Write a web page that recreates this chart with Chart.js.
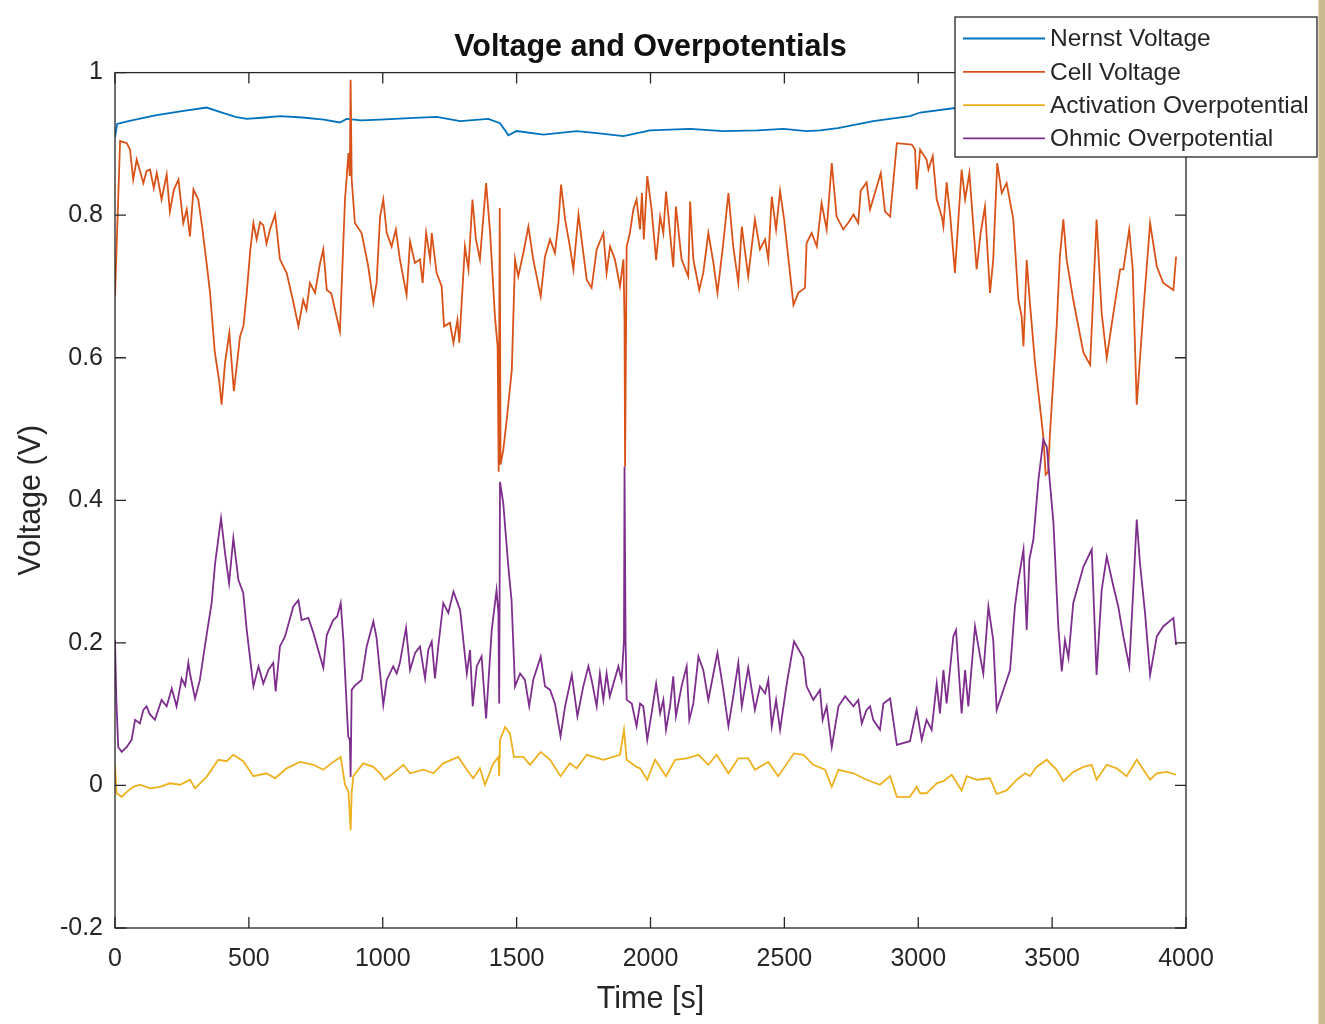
<!DOCTYPE html>
<html>
<head>
<meta charset="utf-8">
<title>Voltage and Overpotentials</title>
<script src="https://cdn.jsdelivr.net/npm/chart.js@4.4.1/dist/chart.umd.min.js"></script>
<style>
  html, body { margin: 0; padding: 0; background: #fff; }
  #wrap { position: relative; width: 1325px; height: 1024px; overflow: hidden; }
  #edge { position: absolute; right: 0; top: 0; width: 6px; height: 1024px; background: #c9bb8f; border-left: 1px solid #e2d8b8; }
</style>
</head>
<body>
<div id="wrap">
  <canvas id="myChart" width="1325" height="1024"></canvas>
  <div id="edge"></div>
</div>
<script>
// values (time in s, voltage in V)
const nernstTime = [0, 8, 50, 150, 250, 342, 400, 450, 492, 560, 616, 700, 780, 840, 865, 920, 990, 1100, 1201, 1289, 1394, 1438, 1455, 1469, 1500, 1600, 1724, 1800, 1899, 1998, 2148, 2272, 2400, 2496, 2583, 2633, 2700, 2832, 2969, 3007, 3131, 3300, 3500, 3700, 3963];
const nernstVolt = [0.909, 0.928, 0.932, 0.940, 0.946, 0.951, 0.944, 0.938, 0.935, 0.937, 0.939, 0.937, 0.934, 0.930, 0.935, 0.933, 0.934, 0.936, 0.938, 0.932, 0.935, 0.929, 0.920, 0.912, 0.918, 0.913, 0.918, 0.915, 0.911, 0.919, 0.921, 0.918, 0.919, 0.921, 0.918, 0.919, 0.922, 0.932, 0.939, 0.944, 0.950, 0.954, 0.957, 0.960, 0.963];

const cellTime = [0, 19, 44, 56, 68, 81, 95, 106, 118, 131, 145, 156, 174, 193, 205, 220, 237, 255, 268, 280, 293, 311, 325, 342, 355, 373, 390, 398, 411, 427, 444, 467, 480, 492, 505, 517, 529, 542, 554, 566, 579, 598, 616, 641, 665, 685, 703, 715, 728, 747, 766, 778, 791, 808, 822, 840, 859, 872, 877, 880, 884, 896, 921, 945, 965, 977, 990, 1002, 1015, 1033, 1049, 1064, 1089, 1102, 1120, 1139, 1149, 1162, 1177, 1183, 1201, 1220, 1229, 1251, 1264, 1279, 1286, 1307, 1320, 1335, 1348, 1363, 1386, 1401, 1419, 1429, 1433, 1437, 1440, 1450, 1463, 1482, 1494, 1506, 1525, 1544, 1562, 1590, 1606, 1625, 1643, 1656, 1666, 1681, 1699, 1712, 1731, 1749, 1762, 1780, 1799, 1824, 1836, 1849, 1867, 1886, 1899, 1903, 1905, 1911, 1923, 1936, 1948, 1961, 1968, 1975, 1988, 2004, 2021, 2036, 2048, 2058, 2073, 2085, 2095, 2116, 2141, 2148, 2160, 2182, 2197, 2216, 2235, 2250, 2272, 2291, 2309, 2328, 2341, 2365, 2390, 2409, 2428, 2440, 2453, 2469, 2484, 2499, 2534, 2552, 2577, 2583, 2602, 2621, 2639, 2658, 2677, 2695, 2720, 2740, 2758, 2776, 2785, 2807, 2820, 2845, 2860, 2876, 2895, 2920, 2976, 2988, 2994, 3007, 3031, 3038, 3054, 3069, 3088, 3094, 3106, 3119, 3137, 3162, 3175, 3191, 3206, 3218, 3233, 3249, 3268, 3280, 3295, 3312, 3330, 3355, 3374, 3386, 3393, 3405, 3417, 3436, 3467, 3476, 3485, 3492, 3517, 3529, 3542, 3554, 3579, 3617, 3642, 3666, 3685, 3704, 3729, 3754, 3766, 3788, 3801, 3816, 3841, 3866, 3891, 3915, 3953, 3963];
const cellVolt = [0.686, 0.904, 0.901, 0.892, 0.850, 0.878, 0.860, 0.845, 0.862, 0.864, 0.838, 0.859, 0.822, 0.857, 0.805, 0.836, 0.850, 0.789, 0.808, 0.770, 0.836, 0.822, 0.785, 0.733, 0.691, 0.607, 0.565, 0.534, 0.593, 0.635, 0.553, 0.630, 0.645, 0.691, 0.750, 0.789, 0.766, 0.790, 0.786, 0.760, 0.780, 0.801, 0.738, 0.719, 0.680, 0.644, 0.681, 0.667, 0.705, 0.691, 0.733, 0.752, 0.695, 0.690, 0.667, 0.637, 0.822, 0.887, 0.855, 0.990, 0.850, 0.789, 0.775, 0.730, 0.677, 0.705, 0.798, 0.822, 0.775, 0.756, 0.780, 0.738, 0.688, 0.763, 0.733, 0.738, 0.705, 0.775, 0.738, 0.775, 0.719, 0.700, 0.644, 0.649, 0.621, 0.653, 0.621, 0.756, 0.724, 0.822, 0.766, 0.738, 0.845, 0.775, 0.658, 0.616, 0.440, 0.810, 0.450, 0.470, 0.513, 0.583, 0.738, 0.714, 0.747, 0.784, 0.738, 0.686, 0.742, 0.766, 0.747, 0.789, 0.843, 0.794, 0.756, 0.724, 0.801, 0.747, 0.709, 0.698, 0.752, 0.775, 0.719, 0.756, 0.738, 0.700, 0.738, 0.653, 0.447, 0.756, 0.775, 0.808, 0.822, 0.780, 0.831, 0.766, 0.855, 0.808, 0.737, 0.798, 0.775, 0.833, 0.775, 0.727, 0.812, 0.738, 0.714, 0.819, 0.738, 0.695, 0.719, 0.775, 0.733, 0.691, 0.761, 0.831, 0.756, 0.705, 0.784, 0.714, 0.794, 0.752, 0.766, 0.738, 0.826, 0.780, 0.834, 0.794, 0.674, 0.691, 0.698, 0.761, 0.775, 0.756, 0.817, 0.780, 0.873, 0.798, 0.780, 0.790, 0.801, 0.789, 0.834, 0.846, 0.808, 0.840, 0.859, 0.805, 0.798, 0.901, 0.899, 0.892, 0.836, 0.892, 0.878, 0.864, 0.883, 0.822, 0.798, 0.784, 0.846, 0.801, 0.719, 0.864, 0.822, 0.859, 0.784, 0.724, 0.775, 0.812, 0.691, 0.738, 0.873, 0.831, 0.845, 0.794, 0.681, 0.658, 0.616, 0.737, 0.677, 0.593, 0.490, 0.436, 0.440, 0.494, 0.644, 0.742, 0.794, 0.738, 0.681, 0.607, 0.590, 0.794, 0.663, 0.600, 0.663, 0.724, 0.724, 0.780, 0.724, 0.534, 0.667, 0.789, 0.728, 0.705, 0.695, 0.742];

const actTime = [0, 6, 25, 50, 68, 93, 131, 168, 205, 243, 280, 299, 342, 386, 417, 442, 479, 517, 566, 598, 641, 691, 741, 778, 815, 843, 859, 872, 880, 884, 890, 927, 965, 990, 1008, 1039, 1077, 1102, 1152, 1189, 1226, 1282, 1314, 1338, 1363, 1382, 1413, 1432, 1435, 1438, 1457, 1475, 1490, 1525, 1550, 1590, 1625, 1664, 1699, 1724, 1762, 1824, 1886, 1901, 1911, 1948, 1961, 1988, 2017, 2058, 2092, 2135, 2179, 2216, 2247, 2291, 2328, 2365, 2390, 2440, 2477, 2536, 2571, 2608, 2652, 2677, 2702, 2758, 2807, 2857, 2895, 2920, 2969, 2994, 3007, 3031, 3069, 3094, 3125, 3162, 3181, 3218, 3268, 3293, 3330, 3368, 3399, 3417, 3442, 3480, 3517, 3542, 3579, 3617, 3648, 3666, 3704, 3741, 3778, 3816, 3841, 3866, 3891, 3928, 3963];
const actVolt = [0.029, -0.011, -0.016, -0.007, -0.002, 0.001, -0.004, -0.002, 0.003, 0.001, 0.008, -0.004, 0.012, 0.036, 0.034, 0.043, 0.034, 0.013, 0.017, 0.010, 0.024, 0.033, 0.029, 0.022, 0.033, 0.040, 0.001, -0.009, -0.063, -0.010, 0.013, 0.031, 0.026, 0.017, 0.008, 0.017, 0.029, 0.017, 0.022, 0.017, 0.031, 0.040, 0.022, 0.010, 0.024, 0.001, 0.031, 0.040, 0.013, 0.064, 0.082, 0.073, 0.040, 0.040, 0.029, 0.047, 0.036, 0.013, 0.031, 0.024, 0.043, 0.036, 0.043, 0.078, 0.036, 0.026, 0.024, 0.008, 0.036, 0.013, 0.036, 0.038, 0.043, 0.029, 0.043, 0.017, 0.038, 0.038, 0.022, 0.033, 0.013, 0.045, 0.043, 0.029, 0.022, -0.002, 0.022, 0.017, 0.008, 0.001, 0.013, -0.016, -0.016, -0.002, -0.011, -0.011, 0.003, 0.006, 0.015, -0.007, 0.013, 0.008, 0.010, -0.012, -0.007, 0.008, 0.017, 0.013, 0.026, 0.036, 0.022, 0.006, 0.019, 0.026, 0.029, 0.008, 0.029, 0.024, 0.013, 0.036, 0.022, 0.008, 0.017, 0.019, 0.015];

const ohmTime = [0, 5, 12, 25, 44, 62, 75, 93, 106, 118, 130, 149, 174, 193, 212, 230, 249, 262, 274, 280, 299, 317, 342, 361, 374, 396, 411, 426, 442, 461, 479, 492, 517, 536, 554, 573, 591, 600, 616, 635, 666, 685, 697, 722, 741, 759, 778, 791, 815, 830, 843, 853, 871, 877, 880, 884, 896, 921, 940, 965, 977, 990, 1002, 1015, 1039, 1052, 1064, 1087, 1102, 1121, 1139, 1158, 1170, 1183, 1195, 1208, 1226, 1245, 1264, 1289, 1314, 1326, 1336, 1351, 1369, 1386, 1407, 1425, 1432, 1435, 1438, 1450, 1469, 1481, 1494, 1513, 1531, 1547, 1562, 1590, 1606, 1625, 1643, 1664, 1681, 1706, 1727, 1749, 1768, 1780, 1799, 1811, 1824, 1836, 1848, 1880, 1892, 1901, 1903, 1907, 1911, 1930, 1948, 1961, 1973, 1988, 2004, 2021, 2036, 2048, 2058, 2073, 2085, 2095, 2116, 2135, 2145, 2160, 2179, 2197, 2216, 2235, 2250, 2272, 2291, 2309, 2328, 2341, 2365, 2390, 2409, 2428, 2440, 2453, 2469, 2484, 2509, 2536, 2571, 2583, 2608, 2633, 2643, 2658, 2677, 2702, 2727, 2758, 2776, 2789, 2807, 2820, 2832, 2857, 2870, 2895, 2920, 2969, 2994, 3013, 3031, 3050, 3069, 3081, 3094, 3106, 3131, 3141, 3162, 3175, 3187, 3212, 3231, 3243, 3262, 3280, 3293, 3318, 3343, 3361, 3374, 3393, 3405, 3415, 3430, 3449, 3467, 3480, 3505, 3523, 3536, 3548, 3561, 3579, 3617, 3648, 3666, 3685, 3704, 3729, 3747, 3766, 3788, 3803, 3816, 3828, 3847, 3866, 3891, 3915, 3953, 3963];
const ohmVolt = [0.204, 0.120, 0.054, 0.047, 0.054, 0.064, 0.092, 0.087, 0.106, 0.111, 0.100, 0.092, 0.120, 0.111, 0.136, 0.111, 0.150, 0.140, 0.172, 0.157, 0.122, 0.148, 0.211, 0.256, 0.312, 0.375, 0.326, 0.284, 0.347, 0.288, 0.270, 0.218, 0.139, 0.167, 0.143, 0.162, 0.172, 0.132, 0.195, 0.209, 0.251, 0.260, 0.232, 0.235, 0.214, 0.190, 0.165, 0.211, 0.232, 0.237, 0.256, 0.204, 0.069, 0.064, 0.012, 0.134, 0.140, 0.148, 0.195, 0.230, 0.207, 0.157, 0.113, 0.148, 0.167, 0.157, 0.172, 0.221, 0.162, 0.186, 0.195, 0.150, 0.190, 0.202, 0.150, 0.197, 0.256, 0.242, 0.272, 0.246, 0.157, 0.190, 0.111, 0.167, 0.181, 0.094, 0.218, 0.274, 0.242, 0.115, 0.426, 0.396, 0.307, 0.260, 0.139, 0.157, 0.148, 0.111, 0.148, 0.181, 0.139, 0.134, 0.115, 0.069, 0.111, 0.155, 0.097, 0.139, 0.167, 0.148, 0.111, 0.157, 0.120, 0.157, 0.125, 0.167, 0.148, 0.204, 0.447, 0.200, 0.120, 0.115, 0.083, 0.115, 0.111, 0.064, 0.101, 0.143, 0.101, 0.120, 0.078, 0.111, 0.153, 0.097, 0.139, 0.167, 0.092, 0.115, 0.181, 0.162, 0.120, 0.157, 0.186, 0.134, 0.083, 0.125, 0.172, 0.111, 0.165, 0.106, 0.139, 0.129, 0.148, 0.083, 0.120, 0.078, 0.143, 0.202, 0.179, 0.139, 0.120, 0.134, 0.092, 0.111, 0.054, 0.111, 0.125, 0.111, 0.120, 0.087, 0.106, 0.111, 0.092, 0.078, 0.115, 0.122, 0.057, 0.062, 0.106, 0.064, 0.092, 0.078, 0.143, 0.101, 0.162, 0.115, 0.209, 0.218, 0.101, 0.162, 0.111, 0.223, 0.181, 0.157, 0.251, 0.204, 0.106, 0.134, 0.162, 0.251, 0.288, 0.331, 0.218, 0.317, 0.345, 0.429, 0.485, 0.475, 0.368, 0.223, 0.160, 0.204, 0.179, 0.256, 0.307, 0.331, 0.155, 0.274, 0.321, 0.279, 0.251, 0.209, 0.167, 0.274, 0.373, 0.312, 0.242, 0.155, 0.209, 0.223, 0.235, 0.197];

const xTickValues = [0, 500, 1000, 1500, 2000, 2500, 3000, 3500, 4000];
const yTickValues = [-0.2, 0, 0.2, 0.4, 0.6, 0.8, 1];

const fontFamily = '"Liberation Sans", Arial, Helvetica, sans-serif';
const axisColor = '#262626';

function toPoints(times, volts) {
	return times.map((t, i) => ({ x: t, y: volts[i] }));
}

// MATLAB style: box round the axes, ticks pointing inwards, legend box on top
const matlabBox = {
	id: 'matlabBox',
	afterDraw(chart) {
		const { ctx, chartArea: a, scales } = chart;
		ctx.save();
		ctx.strokeStyle = axisColor;
		ctx.lineWidth = 1.3;
		ctx.strokeRect(a.left, a.top, a.right - a.left, a.bottom - a.top);
		ctx.beginPath();
		scales.x.ticks.forEach((t) => {
			const px = scales.x.getPixelForValue(t.value);
			ctx.moveTo(px, a.bottom); ctx.lineTo(px, a.bottom - 11);
			ctx.moveTo(px, a.top); ctx.lineTo(px, a.top + 11);
		});
		scales.y.ticks.forEach((t) => {
			const py = scales.y.getPixelForValue(t.value);
			ctx.moveTo(a.left, py); ctx.lineTo(a.left + 11, py);
			ctx.moveTo(a.right, py); ctx.lineTo(a.right - 11, py);
		});
		ctx.stroke();

		// legend
		const box = { left: 955, top: 17, width: 362, height: 140 };
		ctx.fillStyle = '#fff';
		ctx.fillRect(box.left, box.top, box.width, box.height);
		ctx.lineWidth = 1.3;
		ctx.strokeRect(box.left, box.top, box.width, box.height);
		ctx.font = '24.5px ' + fontFamily;
		ctx.textBaseline = 'middle';
		chart.data.datasets.forEach((ds, i) => {
			const y = box.top + 21.5 + i * 33.3;
			ctx.strokeStyle = ds.borderColor;
			ctx.lineWidth = 1.8;
			ctx.beginPath();
			ctx.moveTo(box.left + 8, y);
			ctx.lineTo(box.left + 90, y);
			ctx.stroke();
			ctx.fillStyle = axisColor;
			ctx.fillText(ds.label, box.left + 95, y + 1);
		});
		ctx.restore();
	}
};

const ctx = document.getElementById('myChart').getContext('2d');

const myChart = new Chart(ctx, {
	type: 'line',
	data: {
		datasets: [
			{ label: 'Nernst Voltage', data: toPoints(nernstTime, nernstVolt), borderColor: '#0072BD', order: 4 },
			{ label: 'Cell Voltage', data: toPoints(cellTime, cellVolt), borderColor: '#D95319', order: 3 },
			{ label: 'Activation Overpotential', data: toPoints(actTime, actVolt), borderColor: '#EDB120', order: 2 },
			{ label: 'Ohmic Overpotential', data: toPoints(ohmTime, ohmVolt), borderColor: '#7E2F8E', order: 1 }
		]
	},
	options: {
		responsive: false,
		animation: false,
		events: [],
		elements: {
			line: { borderWidth: 1.8, tension: 0, fill: false },
			point: { radius: 0 }
		},
		layout: { padding: { top: 25, left: 0, right: 139, bottom: 0 } },
		plugins: {
			legend: { display: false },
			tooltip: { enabled: false },
			title: {
				display: true,
				text: 'Voltage and Overpotentials',
				fullSize: false,
				color: '#111',
				font: { family: fontFamily, size: 30.5, weight: 'bold' },
				padding: { top: 4, bottom: 7 }
			}
		},
		scales: {
			x: {
				type: 'linear',
				min: 0,
				max: 4000,
				afterBuildTicks: (scale) => { scale.ticks = xTickValues.map((v) => ({ value: v })); },
				afterFit: (scale) => { scale.height = 96; },
				grid: { display: false },
				border: { display: false },
				ticks: {
					color: axisColor,
					font: { family: fontFamily, size: 25 },
					padding: 8,
					maxRotation: 0,
					callback: (v) => String(v)
				},
				title: {
					display: true,
					text: 'Time [s]',
					color: axisColor,
					font: { family: fontFamily, size: 30.5 },
					padding: { top: 0, bottom: 6 }
				}
			},
			y: {
				type: 'linear',
				min: -0.2,
				max: 1,
				afterBuildTicks: (scale) => { scale.ticks = yTickValues.map((v) => ({ value: v })); },
				afterFit: (scale) => { scale.width = 115; },
				grid: { display: false },
				border: { display: false },
				ticks: {
					color: axisColor,
					font: { family: fontFamily, size: 25 },
					padding: 4,
					callback: (v) => String(Math.round(v * 10) / 10)
				},
				title: {
					display: true,
					text: 'Voltage (V)',
					color: axisColor,
					font: { family: fontFamily, size: 30.5 },
					padding: { top: 13, bottom: 0 }
				}
			}
		}
	},
	plugins: [matlabBox]
});
</script>
</body>
</html>
